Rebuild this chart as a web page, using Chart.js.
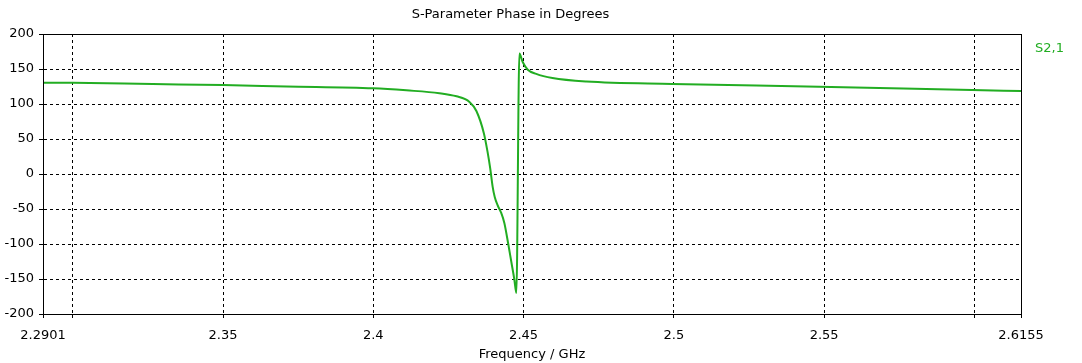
<!DOCTYPE html>
<html>
<head>
<meta charset="utf-8">
<script src="https://cdn.jsdelivr.net/npm/chart.js@4/dist/chart.umd.min.js"></script>
<style>
  html, body { margin: 0; padding: 0; background: #ffffff; }
  #wrap { width: 1082px; height: 363px; }
</style>
</head>
<body>
<div id="wrap"><canvas id="phaseChart"></canvas></div>
<script>
// Datos (frecuencia en GHz, fase en grados)
const freqs = [2.2901, 2.3000, 2.3266, 2.3500, 2.3711, 2.4000, 2.4110, 2.4220, 2.4277, 2.4320,
               2.4343, 2.4368, 2.4380, 2.4389, 2.4397, 2.4404, 2.4414, 2.4425, 2.4436, 2.4449,
               2.4459, 2.4469, 2.4476, 2.4486, 2.4497, 2.4514, 2.4542, 2.4596, 2.4709, 2.4995,
               2.5483, 2.5992, 2.6155];
const phases = [130.5, 130.3, 128.5, 127.0, 125.0, 122.4, 119.5, 115.5, 111.0, 103.0,
                90.0, 58.0, 32.0, 8.0, -18.0, -33.0, -45.0, -55.0, -70.0, -100.0,
                -125.0, -150.0, -170.0, 172.0, 160.0, 149.0, 143.0, 137.0, 132.0, 128.6,
                124.8, 120.0, 118.6];
const seriesLabel = 'S2,1';

const xTickValues = [2.2901, 2.3, 2.35, 2.4, 2.45, 2.5, 2.55, 2.6, 2.6155];
const xTickLabels = ['2.2901', '', '2.35', '2.4', '2.45', '2.5', '2.55', '', '2.6155'];
const yMin = -200, yMax = 200, yStep = 50;

const lineColor = '#22ad22';
const fontFamily = 'Tahoma, "DejaVu Sans", sans-serif';

// mismo redondeo que usa Chart.js para lineas de 1px
const align = (v) => Math.round(v - 0.5) + 0.5;

// Marco del area del grafico y leyenda a la derecha
const framePlugin = {
    id: 'frame',
    afterDraw(chart) {
        const { ctx, chartArea } = chart;
        ctx.save();
        ctx.strokeStyle = '#000000';
        ctx.lineWidth = 1;
        const l = align(chartArea.left);
        const t = align(chartArea.top);
        const r = align(chartArea.right);
        const b = align(chartArea.bottom);
        ctx.strokeRect(l, t, r - l, b - t);

        ctx.fillStyle = lineColor;
        ctx.font = '13px ' + fontFamily;
        ctx.textBaseline = 'middle';
        ctx.textAlign = 'left';
        ctx.fillText(chart.data.datasets[0].label, chartArea.right + 14, chartArea.top + 15);
        ctx.restore();
    }
};

const ctx = document.getElementById('phaseChart').getContext('2d');
new Chart(ctx, {
    type: 'line',
    data: {
        datasets: [{
            label: seriesLabel,
            data: freqs.map((f, i) => ({ x: f, y: phases[i] })),
            borderColor: lineColor,
            borderWidth: 2,
            pointRadius: 0,
            fill: false,
            cubicInterpolationMode: 'monotone'
        }]
    },
    options: {
        responsive: true,
        maintainAspectRatio: false,
        animation: false,
        layout: { padding: { left: 0, right: 61, top: 0, bottom: 0 } },
        plugins: {
            legend: { display: false },
            tooltip: { enabled: false },
            title: {
                display: true,
                text: 'S-Parameter Phase in Degrees',
                color: '#000000',
                font: { family: fontFamily, size: 13, weight: 'normal' },
                padding: { top: 7, bottom: 11.4 }
            }
        },
        scales: {
            x: {
                type: 'linear',
                min: freqs[0],
                max: freqs[freqs.length - 1],
                afterBuildTicks: (scale) => {
                    scale.ticks = xTickValues.map(v => ({ value: v }));
                },
                afterFit: (scale) => { scale.height = 49; },
                ticks: {
                    autoSkip: false,
                    maxRotation: 0,
                    padding: 10,
                    color: '#000000',
                    font: { family: fontFamily, size: 13 },
                    callback: (value, index) => xTickLabels[index]
                },
                grid: {
                    color: '#000000',
                    tickLength: 4,
                    tickBorderDash: [],
                    tickColor: '#000000'
                },
                border: { display: true, color: '#000000', dash: [3, 3] },
                title: {
                    display: true,
                    text: 'Frequency / GHz',
                    color: '#000000',
                    font: { family: fontFamily, size: 13 },
                    padding: { top: 0, bottom: 1 }
                }
            },
            y: {
                min: yMin,
                max: yMax,
                afterFit: (scale) => { scale.width = 43; },
                ticks: {
                    stepSize: yStep,
                    padding: 5,
                    color: '#000000',
                    font: { family: fontFamily, size: 13 }
                },
                grid: {
                    color: '#000000',
                    tickLength: 4,
                    tickBorderDash: [],
                    tickColor: '#000000'
                },
                border: { display: true, color: '#000000', dash: [3, 3] }
            }
        }
    },
    plugins: [framePlugin]
});
</script>
</body>
</html>
